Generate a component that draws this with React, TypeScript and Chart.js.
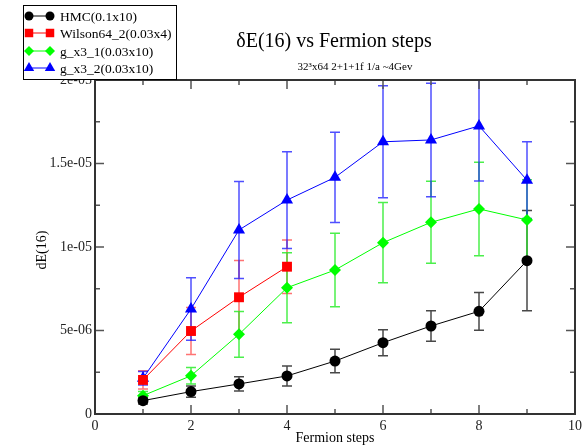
import { useEffect, useRef } from 'react';
import { Chart, registerables } from 'chart.js';

Chart.register(...registerables);

// Fermion step counts (x) for each run
const steps = [1, 2, 3, 4, 5, 6, 7, 8, 9];
const wilsonSteps = [1, 2, 3, 4];

// dE(16) values and their errors
const hmc = [0.8e-6, 1.34e-6, 1.8e-6, 2.28e-6, 3.17e-6, 4.27e-6, 5.27e-6, 6.15e-6, 9.18e-6];
const hmcErr = [0.2e-6, 0.33e-6, 0.43e-6, 0.6e-6, 0.7e-6, 0.78e-6, 0.92e-6, 1.13e-6, 3.0e-6];

const wilson = [2.04e-6, 4.97e-6, 6.99e-6, 8.82e-6];
const wilsonErr = [0.55e-6, 1.4e-6, 2.2e-6, 1.6e-6];

const gx31 = [1.1e-6, 2.29e-6, 4.77e-6, 7.56e-6, 8.62e-6, 10.26e-6, 11.48e-6, 12.28e-6, 11.62e-6];
const gx31Err = [0.25e-6, 0.5e-6, 1.37e-6, 2.1e-6, 2.2e-6, 2.4e-6, 2.45e-6, 2.8e-6, 2.4e-6];

const gx32 = [2.14e-6, 6.29e-6, 11.02e-6, 12.81e-6, 14.17e-6, 16.3e-6, 16.41e-6, 17.25e-6, 14.0e-6];
const gx32Err = [0.4e-6, 1.87e-6, 2.9e-6, 2.9e-6, 2.7e-6, 3.35e-6, 3.4e-6, 3.3e-6, 2.3e-6];

// Axis tick labels
const xTickLabels = ['0', '2', '4', '6', '8', '10'];
const yTickLabels = ['0', '5e-06', '1e-05', '1.5e-05', '2e-05'];

const seriesNames = ['HMC(0.1x10)', 'Wilson64_2(0.03x4)', 'g_x3_1(0.03x10)', 'g_x3_2(0.03x10)'];

const titleText = 'δE(16) vs Fermion steps';
const subtitleText = '32³x64 2+1+1f 1/a ~4Gev';
const xTitle = 'Fermion steps';
const yTitle = 'dE(16)';

const SERIF = '"Liberation Serif", "DejaVu Serif", serif';

const toPoints = (xs: number[], ys: number[]) => xs.map((x, i) => ({ x, y: ys[i] }));

function drawMarker(ctx: CanvasRenderingContext2D, style: string, x: number, y: number, r: number, color: string) {
  ctx.save();
  ctx.fillStyle = color;
  ctx.beginPath();
  if (style === 'circle') {
    ctx.arc(x, y, r, 0, Math.PI * 2);
  } else if (style === 'rect') {
    const s = r * Math.SQRT1_2;
    ctx.rect(x - s, y - s, 2 * s, 2 * s);
  } else if (style === 'rectRot') {
    ctx.moveTo(x - r, y);
    ctx.lineTo(x, y - r);
    ctx.lineTo(x + r, y);
    ctx.lineTo(x, y + r);
    ctx.closePath();
  } else {
    const h = r * Math.sqrt(3) / 2;
    ctx.moveTo(x, y - r);
    ctx.lineTo(x + h, y + r / 2);
    ctx.lineTo(x - h, y + r / 2);
    ctx.closePath();
  }
  ctx.fill();
  ctx.restore();
}

const errorBars = {
  id: 'errorBars',
  beforeDatasetsDraw(chart: any) {
    const { ctx, chartArea, scales } = chart;
    ctx.save();
    ctx.beginPath();
    ctx.rect(chartArea.left, chartArea.top, chartArea.right - chartArea.left, chartArea.bottom - chartArea.top);
    ctx.clip();
    chart.data.datasets.forEach((ds: any) => {
      ctx.strokeStyle = ds.errColor;
      ctx.lineWidth = ds.errWidth || 1.5;
      ds.data.forEach((p: any, i: number) => {
        const e = ds.errors[i];
        const px = scales.x.getPixelForValue(p.x);
        const yt = scales.y.getPixelForValue(p.y + e);
        const yb = scales.y.getPixelForValue(p.y - e);
        ctx.beginPath();
        ctx.moveTo(px, yt);
        ctx.lineTo(px, yb);
        ctx.moveTo(px - 5, yt);
        ctx.lineTo(px + 5, yt);
        ctx.moveTo(px - 5, yb);
        ctx.lineTo(px + 5, yb);
        ctx.stroke();
      });
    });
    ctx.restore();
  },
};

const decorations = {
  id: 'decorations',
  afterDraw(chart: any) {
    const { ctx, chartArea, scales } = chart;
    const { left, right, top, bottom } = chartArea;
    ctx.save();

    // inward tick marks on all four sides
    ctx.strokeStyle = '#555';
    ctx.lineWidth = 1.5;
    ctx.beginPath();
    for (let v = 0; v <= 10; v += 1) {
      const px = scales.x.getPixelForValue(v);
      const len = v % 2 === 0 ? 9 : 5;
      ctx.moveTo(px, bottom);
      ctx.lineTo(px, bottom - len);
      ctx.moveTo(px, top);
      ctx.lineTo(px, top + len);
    }
    for (let k = 0; k <= 8; k++) {
      const py = scales.y.getPixelForValue(k * 2.5e-6);
      const len = k % 2 === 0 ? 9 : 5;
      ctx.moveTo(left, py);
      ctx.lineTo(left + len, py);
      ctx.moveTo(right, py);
      ctx.lineTo(right - len, py);
    }
    ctx.stroke();

    // frame
    ctx.strokeStyle = '#333';
    ctx.lineWidth = 2;
    ctx.strokeRect(left, top, right - left, bottom - top);

    // titles
    ctx.fillStyle = '#000';
    ctx.textAlign = 'center';
    ctx.textBaseline = 'middle';
    ctx.font = `20px ${SERIF}`;
    ctx.fillText(titleText, 334, 42);
    ctx.font = `11px ${SERIF}`;
    ctx.fillText(subtitleText, 355, 67);

    ctx.font = `14px ${SERIF}`;
    ctx.fillText(xTitle, (left + right) / 2, 438);
    ctx.save();
    ctx.translate(42, 250);
    ctx.rotate(-Math.PI / 2);
    ctx.fillText(yTitle, 0, 0);
    ctx.restore();

    // legend box
    ctx.fillStyle = '#fff';
    ctx.fillRect(23, 5, 153, 74);
    ctx.strokeStyle = '#000';
    ctx.lineWidth = 1;
    ctx.strokeRect(23.5, 5.5, 153, 74);
    const rows = [16, 33, 51, 68];
    chart.data.datasets.forEach((ds: any, i: number) => {
      const y = rows[i];
      ctx.strokeStyle = ds.borderColor;
      ctx.lineWidth = 1;
      ctx.beginPath();
      ctx.moveTo(29, y);
      ctx.lineTo(50, y);
      ctx.stroke();
      drawMarker(ctx, ds.pointStyle, 29, y, ds.legendRadius, ds.borderColor);
      drawMarker(ctx, ds.pointStyle, 50, y, ds.legendRadius, ds.borderColor);
      ctx.fillStyle = '#000';
      ctx.textAlign = 'left';
      ctx.textBaseline = 'middle';
      ctx.font = `13.5px ${SERIF}`;
      ctx.fillText(seriesNames[i], 60, y + 1);
    });
    ctx.restore();
  },
};

export default function App() {
  const ref = useRef<HTMLCanvasElement>(null);

  useEffect(() => {
    const canvas = ref.current;
    if (!canvas) return;
    const mk = (label: string, xs: number[], ys: number[], errs: number[], color: string, errColor: string, style: string, radius: number, legendRadius: number, errWidth = 1.5) => ({
      label,
      data: toPoints(xs, ys),
      errors: errs,
      errColor,
      errWidth,
      legendRadius,
      borderColor: color,
      backgroundColor: color,
      borderWidth: 1,
      pointStyle: style,
      pointRadius: radius,
      pointBorderWidth: 0,
      pointBackgroundColor: color,
      showLine: true,
      tension: 0,
    });

    const chart = new Chart(canvas, {
      type: 'scatter',
      data: {
        datasets: [
          mk(seriesNames[0], steps, hmc, hmcErr, '#000000', 'rgba(40,40,40,0.85)', 'circle', 5.5, 4.5, 1.5),
          mk(seriesNames[1], wilsonSteps, wilson, wilsonErr, '#ff0000', 'rgba(255,40,40,0.65)', 'rect', 7, 6),
          mk(seriesNames[2], steps, gx31, gx31Err, '#00ff00', 'rgba(30,235,30,0.8)', 'rectRot', 6, 5),
          mk(seriesNames[3], steps, gx32, gx32Err, '#0000ff', 'rgba(20,20,255,0.75)', 'triangle', 7, 6),
        ] as any,
      },
      options: {
        animation: false,
        responsive: false,
        events: [],
        layout: { padding: { left: 0, top: 80, right: 13, bottom: 0 } },
        plugins: {
          legend: { display: false },
          title: { display: false },
          tooltip: { enabled: false },
        },
        scales: {
          x: {
            type: 'linear',
            min: 0,
            max: 10,
            grid: { display: false, drawTicks: false },
            border: { display: false },
            ticks: {
              stepSize: 2,
              padding: 4,
              color: '#222',
              font: { family: SERIF, size: 14 },
              callback: (v: any) => xTickLabels[Math.round(Number(v) / 2)] ?? '',
            },
            afterFit: (s: any) => { s.height = 33; },
          },
          y: {
            type: 'linear',
            min: 0,
            max: 2e-5,
            grid: { display: false, drawTicks: false },
            border: { display: false },
            ticks: {
              stepSize: 5e-6,
              padding: 3,
              color: '#222',
              font: { family: SERIF, size: 14 },
              callback: (v: any) => yTickLabels[Math.round(Number(v) / 5e-6)] ?? '',
            },
            afterFit: (s: any) => { s.width = 95; },
          },
        },
      },
      plugins: [errorBars, decorations],
    });
    return () => chart.destroy();
  }, []);

  return (
    <div style={{ position: 'fixed', left: 0, top: 0, width: 588, height: 447, background: '#fff' }}>
      <canvas ref={ref} width={588} height={447} />
    </div>
  );
}
